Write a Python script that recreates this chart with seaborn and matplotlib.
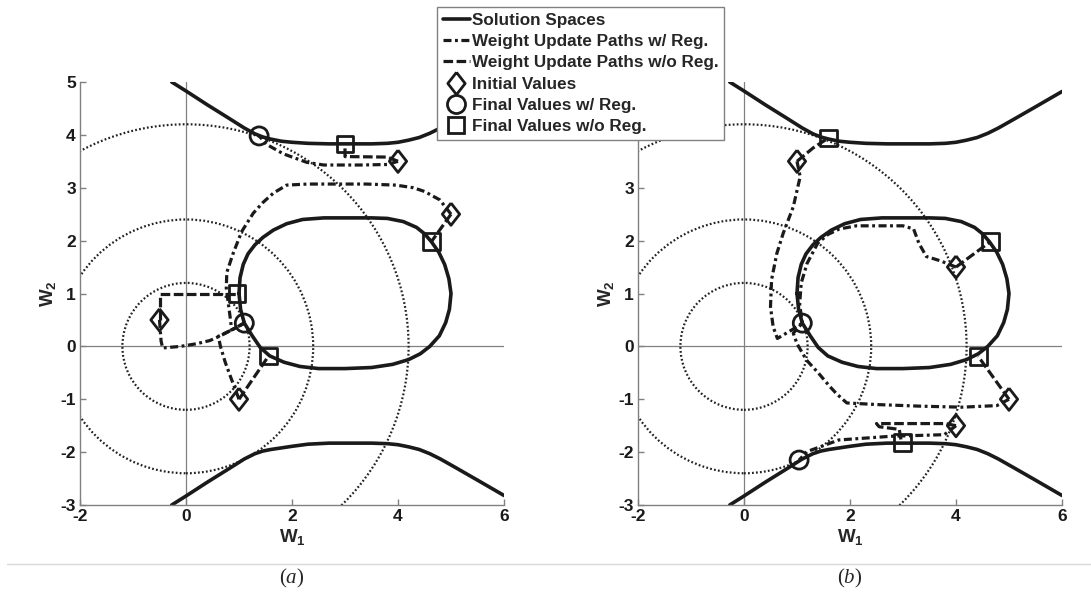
import matplotlib
matplotlib.use("Agg")
import matplotlib.pyplot as plt
from matplotlib.lines import Line2D
from matplotlib.patches import Circle
import seaborn as sns

# solution spaces (same in both panels)
upper_x = [-0.27, 0.0, 0.4, 0.8, 1.1, 1.3, 1.45, 1.6, 1.8, 2.0, 2.3, 2.7, 3.1,
           3.5, 3.8, 4.0, 4.2, 4.4, 4.6, 4.8, 5.1, 5.5, 6.0]
upper_y = [5.0, 4.83, 4.57, 4.32, 4.13, 4.02, 3.96, 3.92, 3.88, 3.86, 3.84, 3.83, 3.83,
           3.83, 3.84, 3.86, 3.9, 3.95, 4.03, 4.13, 4.3, 4.53, 4.82]
lower_x = [-0.27, 0.0, 0.4, 0.8, 1.1, 1.3, 1.45, 1.6, 1.8, 2.0, 2.3, 2.7, 3.1,
           3.5, 3.8, 4.0, 4.2, 4.4, 4.6, 4.8, 5.1, 5.5, 6.0]
lower_y = [-3.0, -2.83, -2.57, -2.32, -2.13, -2.03, -1.98, -1.95, -1.92, -1.89, -1.85, -1.83, -1.83,
           -1.83, -1.84, -1.86, -1.9, -1.95, -2.03, -2.13, -2.3, -2.53, -2.82]
loop_x = [1.0, 1.02, 1.08, 1.17, 1.3, 1.45, 1.65, 1.9, 2.2, 2.6, 3.0, 3.5, 3.8, 4.1,
          4.35, 4.5, 4.63, 4.77, 4.88, 4.96, 5.0, 4.97, 4.9, 4.78, 4.6, 4.42, 4.2,
          3.9, 3.5, 3.0, 2.5, 2.15, 1.85, 1.58, 1.4, 1.25, 1.1, 1.03, 1.0]
loop_y = [1.0, 1.3, 1.55, 1.75, 1.92, 2.06, 2.2, 2.32, 2.4, 2.43, 2.43, 2.43, 2.42, 2.36,
          2.25, 2.13, 1.98, 1.78, 1.55, 1.28, 1.0, 0.7, 0.45, 0.2, 0.0, -0.14, -0.25,
          -0.34, -0.4, -0.42, -0.42, -0.38, -0.3, -0.18, -0.02, 0.2, 0.44, 0.7, 1.0]

# regularisation contours (radii around the origin)
contour_r = [1.2, 2.4, 4.2]

# panel (a)
a_init = [(4.0, 3.5), (5.0, 2.5), (-0.5, 0.5), (1.0, -1.0)]
a_final_reg = [(1.38, 3.98), (1.1, 0.44)]
a_final_noreg = [(3.0, 3.83), (4.63, 1.98), (0.96, 1.0), (1.56, -0.18)]
a_reg_paths = [
    [(4.0, 3.5), (3.8, 3.44), (3.3, 3.43), (2.6, 3.43), (2.28, 3.48), (1.84, 3.64),
     (1.52, 3.82), (1.38, 3.98)],
    [(5.0, 2.5), (4.79, 2.77), (4.5, 2.93), (4.29, 3.0), (3.96, 3.05), (3.4, 3.07),
     (2.3, 3.07), (1.9, 3.05), (1.65, 2.9), (1.45, 2.72), (1.27, 2.52), (1.05, 2.17),
     (0.89, 1.76), (0.77, 1.4), (0.76, 1.1), (0.8, 0.8), (0.84, 0.5), (0.86, 0.31),
     (1.1, 0.44)],
    [(-0.5, 0.5), (-0.47, 0.1), (-0.44, -0.03), (-0.1, 0.0), (0.2, 0.05), (0.45, 0.11),
     (0.65, 0.2), (0.86, 0.31), (1.1, 0.44)],
    [(1.0, -1.0), (0.85, -0.6), (0.74, -0.3), (0.65, 0.0), (0.61, 0.19), (0.86, 0.31),
     (1.1, 0.44)],
]
a_noreg_paths = [
    [(4.0, 3.5), (3.8, 3.58), (3.0, 3.59), (3.0, 3.83)],
    [(5.0, 2.5), (4.63, 1.98)],
    [(-0.5, 0.5), (-0.5, 1.0), (0.96, 1.0)],
    [(1.0, -1.0), (1.56, -0.18)],
]

# panel (b)
b_init = [(1.0, 3.5), (4.0, 1.5), (5.0, -1.0), (4.0, -1.5)]
b_final_reg = [(1.1, 0.44), (1.04, -2.15)]
b_final_noreg = [(1.59, 3.94), (4.65, 1.98), (4.42, -0.19), (2.99, -1.82)]
b_reg_paths = [
    [(1.0, 3.5), (1.06, 3.21), (0.93, 2.64), (0.74, 2.14), (0.62, 1.76), (0.52, 1.26),
     (0.5, 0.75), (0.55, 0.37), (0.63, 0.15), (0.9, 0.31), (1.1, 0.44)],
    [(4.0, 1.5), (3.7, 1.62), (3.44, 1.7), (3.3, 1.95), (3.2, 2.22), (3.0, 2.28),
     (2.12, 2.28), (1.8, 2.22), (1.59, 2.12), (1.39, 1.95), (1.19, 1.57), (1.08, 1.2),
     (1.05, 0.8), (1.1, 0.44)],
    [(5.0, -1.0), (4.77, -1.12), (4.11, -1.15), (3.3, -1.13), (2.5, -1.1), (1.94, -1.07),
     (1.75, -0.9), (1.62, -0.76), (1.4, -0.5), (1.18, -0.26), (1.0, 0.05), (0.93, 0.25),
     (1.1, 0.44)],
    [(4.0, -1.5), (3.78, -1.67), (2.78, -1.7), (1.79, -1.77), (1.19, -1.99), (1.04, -2.15)],
]
b_noreg_paths = [
    [(1.0, 3.5), (1.3, 3.75), (1.59, 3.94)],
    [(4.0, 1.5), (4.65, 1.98)],
    [(5.0, -1.0), (4.42, -0.19)],
    [(4.0, -1.5), (3.8, -1.46), (2.5, -1.46), (2.55, -1.52), (2.93, -1.57), (2.97, -1.82)],
]

legend_labels = ["Solution Spaces", "Weight Update Paths w/ Reg.",
                 "Weight Update Paths w/o Reg.", "Initial Values",
                 "Final Values w/ Reg.", "Final Values w/o Reg."]
captions = ["(a)", "(b)"]

sns.set_theme(style="white")
plt.rcParams["font.family"] = ["Liberation Sans", "DejaVu Sans"]
plt.rcParams["font.weight"] = "bold"
plt.rcParams["axes.unicode_minus"] = False
plt.rcParams["mathtext.fontset"] = "custom"
plt.rcParams["mathtext.bf"] = "Liberation Sans:bold"
plt.rcParams["mathtext.rm"] = "Liberation Serif:weight=normal"
plt.rcParams["mathtext.it"] = "Liberation Serif:italic:weight=normal"

DASHDOT = (0, (2.5, 1.1, 0.9, 1.1))
DASHED = (0, (3.0, 1.1))
DIAMOND = [(0, 1), (0.78, 0), (0, -1), (-0.78, 0), (0, 1)]
GREY = "#808080"

W, H = 1091, 592
fig = plt.figure(figsize=(W / 100, H / 100), dpi=100)


def line(ax, pts, ls, lw):
    xs = [p[0] for p in pts]
    ys = [p[1] for p in pts]
    sns.lineplot(x=xs, y=ys, sort=False, estimator=None, color="k", lw=lw,
                 linestyle=ls, legend=False, ax=ax)


def marks(ax, pts, marker, size):
    sns.scatterplot(x=[p[0] for p in pts], y=[p[1] for p in pts], marker=marker,
                    s=size ** 2, color="k", facecolors="none", edgecolor="k",
                    linewidth=2.0, zorder=5, legend=False, ax=ax)


def panel(left, init, fin_reg, fin_noreg, reg_paths, noreg_paths):
    ax = fig.add_axes([left / W, (H - 505) / H, 424 / W, 423 / H])
    ax.axhline(0, color=GREY, lw=0.9, zorder=1)
    ax.axvline(0, color=GREY, lw=0.9, zorder=1)
    for r in contour_r:
        ax.add_patch(Circle((0, 0), r, fill=False, ec="#222222", lw=1.6,
                            ls=(0, (0.8, 1.0)), zorder=1))
    line(ax, list(zip(upper_x, upper_y)), "-", 2.6)
    line(ax, list(zip(lower_x, lower_y)), "-", 2.6)
    line(ax, list(zip(loop_x, loop_y)), "-", 2.6)
    for p in reg_paths:
        line(ax, p, DASHDOT, 2.3)
    for p in noreg_paths:
        line(ax, p, DASHED, 2.3)
    marks(ax, init, DIAMOND, 16)
    marks(ax, fin_reg, "o", 13)
    marks(ax, fin_noreg, "s", 12)

    ax.set_xlim(-2, 6)
    ax.set_ylim(-3, 5)
    ax.set_xticks([-2, 0, 2, 4, 6])
    ax.set_yticks(range(-3, 6))
    for s in ["top", "right"]:
        ax.spines[s].set_visible(False)
    for s in ["left", "bottom"]:
        ax.spines[s].set_color(GREY)
        ax.spines[s].set_linewidth(1.0)
    ax.tick_params(direction="in", length=4, width=1, color=GREY, labelsize=12.5,
                   labelcolor="k", pad=3, bottom=True, left=True)
    ax.set_xlabel(r"$\mathbf{W_1}$", fontsize=13.5, labelpad=2)
    ax.set_ylabel(r"$\mathbf{W_2}$", fontsize=13.5, labelpad=2)
    return ax


ax_a = panel(80, a_init, a_final_reg, a_final_noreg, a_reg_paths, a_noreg_paths)
ax_b = panel(638, b_init, b_final_reg, b_final_noreg, b_reg_paths, b_noreg_paths)

handles = [
    Line2D([], [], color="k", lw=2.6),
    Line2D([], [], color="k", lw=2.3, ls=DASHDOT),
    Line2D([], [], color="k", lw=2.3, ls=DASHED),
    Line2D([], [], color="k", ls="none", marker=DIAMOND, ms=16, mfc="none", mew=2),
    Line2D([], [], color="k", ls="none", marker="o", ms=13, mfc="none", mew=2),
    Line2D([], [], color="k", ls="none", marker="s", ms=12, mfc="none", mew=2),
]
leg = fig.legend(handles, legend_labels, loc="upper left",
                 bbox_to_anchor=(437 / W, 1 - 7 / H), borderaxespad=0,
                 frameon=True, fancybox=False, framealpha=1, edgecolor=GREY,
                 prop={"weight": "bold", "size": 12.3}, handlelength=1.6,
                 handletextpad=0.1, borderpad=0.33, labelspacing=0.37)
leg.get_frame().set_linewidth(1.0)

fig.add_artist(Line2D([7 / W, 1.0], [1 - 564 / H] * 2, color="#d9d9d9", lw=1.0))
for cx, cap in zip([292, 850], captions):
    fig.text(cx / W, 1 - 578 / H, "$" + cap + "$", ha="center", va="center",
             fontsize=15)

fig.savefig("out.png", dpi=100)
